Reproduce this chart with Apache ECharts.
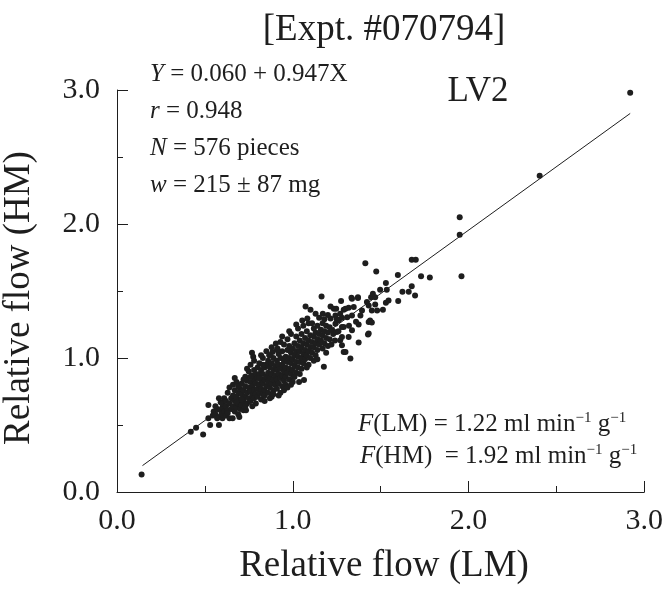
<!DOCTYPE html>
<html>
<head>
<meta charset="utf-8">
<script src="https://cdn.jsdelivr.net/npm/echarts@6/dist/echarts.min.js"></script>
<style>
  html, body { margin: 0; padding: 0; background: #fff; }
  #main { width: 666px; height: 590px; }
</style>
</head>
<body>
<div id="main"></div>
<script>
// relative flow, LM (x) vs HM (y)
const cloud = [
  [0.42,0.45],[0.45,0.48],[0.49,0.43],[0.52,0.65],[0.52,0.55],[0.545,0.57],[0.53,0.50],[0.55,0.60],
  [0.56,0.58],[0.57,0.62],[0.58,0.50],[0.58,0.56],[0.59,0.67],[0.59,0.61],[0.57,0.55],[0.60,0.55],
  [0.56,0.64],[0.58,0.70],[0.595,0.58],[0.60,0.63],
  [0.60,0.66],[0.61,0.60],[0.61,0.70],[0.62,0.57],[0.62,0.64],[0.62,0.68],[0.63,0.61],[0.63,0.74],
  [0.64,0.55],[0.64,0.66],[0.64,0.78],[0.65,0.62],[0.65,0.70],[0.66,0.80],[0.658,0.55],[0.63,0.59],
  [0.66,0.64],[0.66,0.72],[0.67,0.60],[0.67,0.68],[0.67,0.76],[0.68,0.63],[0.68,0.71],[0.68,0.82],
  [0.69,0.66],[0.69,0.74],[0.69,0.58],[0.70,0.69],[0.70,0.77],[0.70,0.62],[0.696,0.56],[0.67,0.85],
  [0.68,0.67],[0.69,0.79],
  [0.71,0.65],[0.71,0.73],[0.71,0.81],[0.72,0.68],[0.72,0.76],[0.72,0.61],[0.73,0.71],[0.73,0.79],
  [0.73,0.86],[0.734,0.61],[0.74,0.66],[0.74,0.74],[0.74,0.83],[0.75,0.70],[0.75,0.78],[0.75,0.90],
  [0.72,0.84],[0.73,0.64],[0.74,0.92],[0.71,0.69],
  [0.76,0.68],[0.76,0.75],[0.76,0.82],[0.76,0.95],[0.77,0.72],[0.77,0.79],[0.77,0.87],[0.768,1.04],
  [0.775,1.01],[0.78,0.70],[0.78,0.76],[0.78,0.84],[0.78,0.91],[0.79,0.73],[0.79,0.81],[0.79,0.88],
  [0.79,0.66],[0.80,0.77],[0.80,0.85],[0.80,0.93],[0.80,0.71],[0.77,0.64],[0.78,0.98],[0.76,0.86],
  [0.81,0.74],[0.81,0.80],[0.81,0.88],[0.81,0.96],[0.82,0.69],[0.82,0.77],[0.82,0.84],[0.82,0.91],
  [0.83,0.73],[0.83,0.81],[0.83,0.88],[0.83,1.00],[0.84,0.76],[0.84,0.84],[0.84,0.93],[0.84,0.68],
  [0.85,0.79],[0.85,0.86],[0.85,0.95],[0.85,1.05],[0.82,1.02],[0.84,0.72],[0.81,0.85],[0.83,0.95],
  [0.86,0.74],[0.86,0.82],[0.86,0.89],[0.86,0.98],[0.87,0.78],[0.87,0.85],[0.87,0.93],[0.87,1.02],
  [0.88,0.71],[0.88,0.81],[0.88,0.88],[0.88,0.96],[0.885,1.045],[0.89,0.76],[0.89,0.84],[0.89,0.91],
  [0.89,1.00],[0.90,0.80],[0.90,0.87],[0.90,0.94],[0.904,1.108],[0.913,1.07],[0.866,1.02],[0.87,0.70],
  [0.88,1.08],[0.89,0.73],
  [0.91,0.77],[0.91,0.84],[0.91,0.91],[0.91,0.98],[0.92,0.81],[0.92,0.88],[0.92,0.95],[0.92,1.03],
  [0.93,0.74],[0.93,0.85],[0.93,0.92],[0.93,1.00],[0.93,1.12],[0.94,0.79],[0.94,0.87],[0.94,0.95],
  [0.94,1.05],[0.95,0.83],[0.95,0.90],[0.95,0.98],[0.95,1.10],[0.92,0.72],[0.94,1.16],[0.91,1.06],
  [0.95,0.76],
  [0.96,0.86],[0.96,0.93],[0.96,1.01],[0.96,0.80],[0.97,0.89],[0.97,0.97],[0.97,1.06],[0.97,1.14],
  [0.98,0.84],[0.98,0.92],[0.98,1.00],[0.98,1.09],[0.99,0.88],[0.99,0.96],[0.99,1.04],[0.99,1.18],
  [1.00,0.91],[1.00,0.99],[1.00,1.07],[1.00,0.82],[1.007,0.86],[0.97,0.78],[0.98,1.20],[0.99,0.80],
  [1.01,0.94],[1.01,1.02],[1.01,1.11],[1.02,0.89],[1.02,0.97],[1.02,1.05],[1.02,1.16],[1.03,0.93],
  [1.03,1.01],[1.03,1.09],[1.03,1.22],[1.036,0.82],[1.04,0.97],[1.04,1.05],[1.04,1.13],[1.04,0.88],
  [1.05,1.00],[1.05,1.08],[1.05,1.18],[1.05,0.92],[1.054,1.28],[1.064,0.835],[1.02,1.25],[1.01,0.86],
  [1.06,1.03],[1.06,1.11],[1.06,0.96],[1.07,1.06],[1.07,1.15],[1.07,0.99],[1.073,1.385],[1.08,1.02],
  [1.08,1.10],[1.08,1.20],[1.083,1.294],[1.09,1.05],[1.09,1.13],[1.09,0.95],[1.10,1.08],[1.10,1.17],
  [1.101,1.36],[1.10,1.00],[1.06,1.24],[1.08,0.93],[1.09,1.26],
  [1.11,1.04],[1.11,1.12],[1.11,1.26],[1.12,1.08],[1.12,1.16],[1.12,1.22],[1.13,1.02],[1.13,1.11],
  [1.13,1.331],[1.13,1.19],[1.14,1.06],[1.14,1.14],[1.14,1.24],[1.15,1.10],[1.15,1.18],[1.15,1.30],
  [1.12,0.98],[1.14,0.99],
  [1.16,1.13],[1.16,1.21],[1.164,1.459],[1.17,1.07],[1.171,1.331],[1.17,1.17],[1.17,1.26],[1.18,1.11],
  [1.177,0.934],[1.18,1.20],[1.18,1.29],[1.19,1.15],[1.19,1.24],[1.20,1.09],[1.20,1.19],[1.20,1.32],
  [1.19,1.04],
  [1.21,1.14],[1.21,1.23],[1.215,1.385],[1.215,1.294],[1.225,1.207],[1.22,1.10],[1.23,1.18],[1.234,1.368],
  [1.243,1.256],[1.243,1.318],[1.247,1.368],[1.24,1.13],[1.25,1.194],[1.25,1.29],
  [1.262,1.281],[1.27,1.132],[1.275,1.425],[1.28,1.157],[1.28,1.095],[1.28,1.231],[1.28,1.301],[1.29,1.045],
  [1.29,1.231],[1.29,1.36],[1.30,1.368],[1.30,1.045],[1.26,1.20],[1.27,1.33],
  [1.31,1.305],[1.318,1.375],[1.318,1.157],[1.328,0.996],[1.334,1.45],[1.337,1.442],[1.337,1.318],[1.337,1.207],
  [1.347,1.38],[1.371,1.447],[1.371,1.454],[1.375,1.25],[1.375,1.115],[1.385,1.318],[1.394,1.355],[1.36,1.27],
  [1.32,1.24],
  [1.413,1.707],[1.422,1.417],[1.428,1.175],[1.432,1.392],[1.432,1.268],[1.432,1.182],[1.44,1.28],[1.446,1.454],
  [1.45,1.355],[1.45,1.264],[1.456,1.48],[1.469,1.454],[1.469,1.40],[1.475,1.645],[1.48,1.355],[1.497,1.51],
  [1.513,1.36],[1.53,1.56],[1.53,1.413],[1.535,1.51],[1.545,1.43],[1.598,1.62],[1.60,1.425],[1.624,1.494],
  [1.66,1.494],[1.677,1.733],[1.70,1.733],[1.677,1.536],[1.696,1.467],[1.73,1.61],[1.78,1.60],
  [1.95,1.92],[1.95,2.05],[1.96,1.61]
]
const outliers = [[0.14, 0.13], [2.405, 2.36], [2.92, 2.98]]
// fitted line Y = 0.060 + 0.947X, drawn between its two ends
const fitLine = [[0.145, 0.197], [2.92, 2.825]]
const xTicks = [0, 1, 2, 3]

const serif = '"Liberation Serif", "Times New Roman", serif'
const ink = '#1e1e1e'

const chart = echarts.init(document.getElementById('main'))

function axisCommon() {
  return {
    type: 'value',
    min: xTicks[0],
    max: xTicks[xTicks.length - 1],
    interval: 1,
    axisLine: { show: true, lineStyle: { color: ink, width: 1 } },
    axisTick: { show: true, inside: true, length: 11, lineStyle: { color: ink, width: 1 } },
    minorTick: { show: true, splitNumber: 2, length: 6, lineStyle: { color: ink, width: 1 } },
    splitLine: { show: false },
    axisLabel: {
      fontFamily: serif,
      fontSize: 30,
      color: ink,
      showMinLabel: true,
      showMaxLabel: true,
      formatter: (v) => v.toFixed(1)
    }
  }
}

const xAxis = axisCommon()
xAxis.axisLabel.margin = 14
const yAxis = axisCommon()
yAxis.axisLabel.margin = 17

const italic = { fontFamily: serif, fontSize: 25, fontStyle: 'italic', fill: ink }
const sup = { fontFamily: serif, fontSize: 15, fill: ink, verticalAlign: 'top', lineHeight: 26 }

function txt(text, x, y, size, align, extra) {
  return Object.assign({
    type: 'text',
    x: x,
    y: y,
    style: {
      text: text,
      fontFamily: serif,
      fontSize: size,
      fill: ink,
      align: align,
      verticalAlign: 'middle',
      textAlign: align,
      textVerticalAlign: 'middle',
      rich: { i: italic, s: sup }
    }
  }, extra || {})
}

const option = {
  animation: false,
  backgroundColor: '#fff',
  grid: { left: 117, right: 19, top: 90, bottom: 98, containLabel: false },
  xAxis: xAxis,
  yAxis: yAxis,
  graphic: [
    txt('[Expt. #070794]', 384, 30.5, 37, 'center'),
    txt('Relative flow (LM)', 384, 566, 37, 'center'),
    txt('Relative flow (HM)', 19.5, 298, 37, 'center', { rotation: Math.PI / 2 }),
    txt('{i|Y} = 0.060 + 0.947X', 150, 74, 25, 'left'),
    txt('{i|r} = 0.948', 150, 111, 25, 'left'),
    txt('{i|N} = 576 pieces', 150, 148, 25, 'left'),
    txt('{i|w} = 215 ± 87 mg', 150, 185, 25, 'left'),
    txt('LV2', 478, 92, 35, 'center'),
    txt('{i|F}(LM) = 1.22 ml min{s|\u22121} g{s|\u22121}', 358, 424, 25, 'left'),
    txt('{i|F}(HM)  = 1.92 ml min{s|\u22121} g{s|\u22121}', 360, 456, 25, 'left')
  ],
  series: [
    {
      type: 'line',
      data: fitLine,
      showSymbol: false,
      symbol: 'none',
      lineStyle: { color: ink, width: 1 },
      z: 3
    },
    {
      type: 'scatter',
      data: cloud.concat(outliers),
      symbol: 'circle',
      symbolSize: 6,
      itemStyle: { color: ink, opacity: 1 },
      z: 2
    }
  ]
}

chart.setOption(option)
</script>
</body>
</html>
